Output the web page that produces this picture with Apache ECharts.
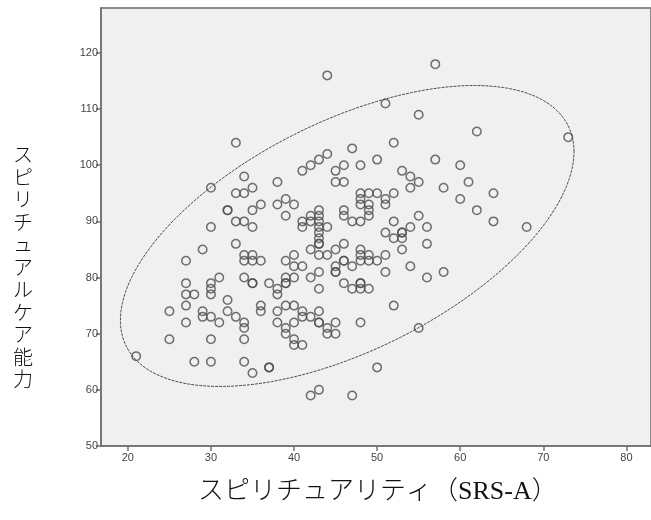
<!DOCTYPE html>
<html>
<head>
<meta charset="utf-8">
<script src="https://cdn.jsdelivr.net/npm/echarts@6/dist/echarts.min.js"></script>
<style>
    html, body { margin: 0; padding: 0; background: #fff; }
    #chart { width: 651px; height: 520px; }
</style>
</head>
<body>
<div id="chart"></div>
<script>
    // スピリチュアリティ (x) と スピリチュアルケア能力 (y)、一人分ずつ対応
    const spirituality = [
        21,
        25, 25,
        27, 27, 27, 27, 27,
        28, 28,
        29, 29, 29,
        30, 30, 30, 30, 30, 30, 30, 30,
        31, 31,
        32, 32, 32, 32,
        33, 33, 33, 33, 33,
        34, 34, 34, 34, 34, 34, 34, 34, 34, 34,
        35, 35, 35, 35, 35, 35, 35, 35,
        36, 36, 36, 36,
        37, 37, 37,
        38, 38, 38, 38, 38, 38,
        39, 39, 39, 39, 39, 39, 39, 39, 39,
        40, 40, 40, 40, 40, 40, 40, 40,
        41, 41, 41, 41, 41, 41, 41,
        42, 42, 42, 42, 42, 42, 42,
        43, 43, 43, 43, 43, 43, 43, 43, 43, 43, 43, 43, 43, 43, 43, 43,
        44, 44, 44, 44, 44, 44,
        45, 45, 45, 45, 45, 45, 45, 45,
        46, 46, 46, 46, 46, 46, 46, 46,
        47, 47, 47, 47, 47,
        48, 48, 48, 48, 48, 48, 48, 48, 48, 48, 48, 48,
        49, 49, 49, 49, 49, 49, 49,
        50, 50, 50, 50,
        51, 51, 51, 51, 51, 51,
        52, 52, 52, 52, 52,
        53, 53, 53, 53, 53,
        54, 54, 54, 54,
        55, 55, 55, 55,
        56, 56, 56,
        57, 57,
        58, 58,
        60, 60,
        61,
        62, 62,
        64, 64,
        68,
        73
    ]
    const careAbility = [
        66,
        74, 69,
        83, 79, 77, 75, 72,
        77, 65,
        85, 74, 73,
        96, 89, 79, 78, 77, 73, 69, 65,
        80, 72,
        92, 92, 76, 74,
        104, 95, 90, 86, 73,
        98, 95, 90, 84, 83, 80, 72, 71, 69, 65,
        96, 92, 89, 84, 83, 79, 79, 63,
        93, 83, 75, 74,
        79, 64, 64,
        97, 93, 78, 77, 74, 72,
        94, 91, 83, 80, 79, 79, 75, 71, 70,
        93, 84, 82, 80, 75, 72, 69, 68,
        99, 90, 89, 82, 74, 73, 68,
        100, 91, 90, 85, 80, 73, 59,
        101, 92, 91, 90, 89, 88, 87, 86, 86, 84, 81, 78, 74, 72, 72, 60,
        116, 102, 89, 84, 71, 70,
        99, 97, 85, 82, 81, 81, 72, 70,
        100, 97, 92, 91, 86, 83, 83, 79,
        103, 90, 82, 78, 59,
        100, 95, 94, 93, 90, 85, 84, 83, 79, 79, 78, 72,
        95, 93, 92, 91, 84, 83, 78,
        101, 95, 83, 64,
        111, 94, 93, 88, 84, 81,
        104, 95, 90, 87, 75,
        99, 88, 88, 87, 85,
        98, 96, 89, 82,
        109, 97, 91, 71,
        89, 86, 80,
        118, 101,
        96, 81,
        100, 94,
        97,
        106, 92,
        95, 90,
        89,
        105
    ]

    const xTicks = [20, 30, 40, 50, 60, 70, 80]
    const yTicks = [50, 60, 70, 80, 90, 100, 110, 120]

    // 楕円 (図から読み取った中心と共分散)
    const ellipseCenter = [46.4, 87.4]
    const ellipseCov = [[745, 410], [410, 718]]

    const xTitle = 'スピリチュアリティ（SRS-A）'
    const yTitle = 'スピリチュアルケア能力'

    let points = spirituality.map((x, i) => [x, careAbility[i]])

    // 共分散のコレスキー分解で楕円をなぞる
    let l11 = Math.sqrt(ellipseCov[0][0])
    let l21 = ellipseCov[1][0] / l11
    let l22 = Math.sqrt(ellipseCov[1][1] - l21 * l21)
    let ellipse = []
    for (let k = 0; k <= 240; k++) {
        let t = k / 240 * Math.PI * 2
        ellipse.push([
            ellipseCenter[0] + l11 * Math.cos(t),
            ellipseCenter[1] + l21 * Math.cos(t) + l22 * Math.sin(t)
        ])
    }

    const axisColor = '#707070'
    const labelStyle = {
        color: '#444',
        fontSize: 11,
        fontFamily: 'Liberation Sans, Arial, sans-serif'
    }

    var myChart = echarts.init(document.getElementById('chart'))
    var option = {
        animation: false,
        backgroundColor: '#fff',
        grid: {
            left: 101,
            top: 8,
            right: -3,
            bottom: 74,
            show: true,
            backgroundColor: '#f0f0f0',
            borderColor: '#8c8c8c',
            borderWidth: 2
        },
        xAxis: {
            type: 'value',
            min: 16.77,
            max: 82.96,
            axisLine: {onZero: false, lineStyle: {color: axisColor, width: 1.5}},
            axisTick: {show: true, length: 5, customValues: xTicks, lineStyle: {color: axisColor, width: 1.5}},
            axisLabel: {customValues: xTicks, margin: 6, ...labelStyle},
            splitLine: {show: false}
        },
        yAxis: {
            type: 'value',
            min: 50,
            max: 128,
            axisLine: {show: true, onZero: false, lineStyle: {color: axisColor, width: 1.5}},
            axisTick: {show: true, length: 5, customValues: yTicks, lineStyle: {color: axisColor, width: 1.5}},
            axisLabel: {customValues: yTicks, margin: 3, ...labelStyle},
            splitLine: {show: false}
        },
        series: [
            {
                type: 'line',
                data: ellipse,
                showSymbol: false,
                silent: true,
                z: 1,
                lineStyle: {color: '#222', width: 0.8, type: [3, 1]}
            },
            {
                type: 'scatter',
                data: points,
                symbol: 'circle',
                symbolSize: 8.5,
                z: 2,
                itemStyle: {
                    color: 'rgba(0,0,0,0)',
                    borderColor: '#4d4d4d',
                    borderWidth: 1.5
                }
            }
        ],
        graphic: [
            {
                type: 'text',
                left: 198,
                top: 479,
                style: {
                    text: xTitle,
                    fontSize: 26,
                    fontFamily: "'Liberation Serif', 'Noto Sans CJK JP'",
                    fontWeight: 300,
                    fill: '#111'
                }
            },
            {
                type: 'text',
                x: 23,
                y: 267,
                style: {
                    text: yTitle.split('').join('\n'),
                    fontSize: 20,
                    lineHeight: 22.5,
                    fontFamily: "'Noto Sans CJK JP'",
                    fontWeight: 300,
                    align: 'center',
                    verticalAlign: 'middle',
                    fill: '#111'
                }
            }
        ]
    }
    option && myChart.setOption(option)
</script>
</body>
</html>
